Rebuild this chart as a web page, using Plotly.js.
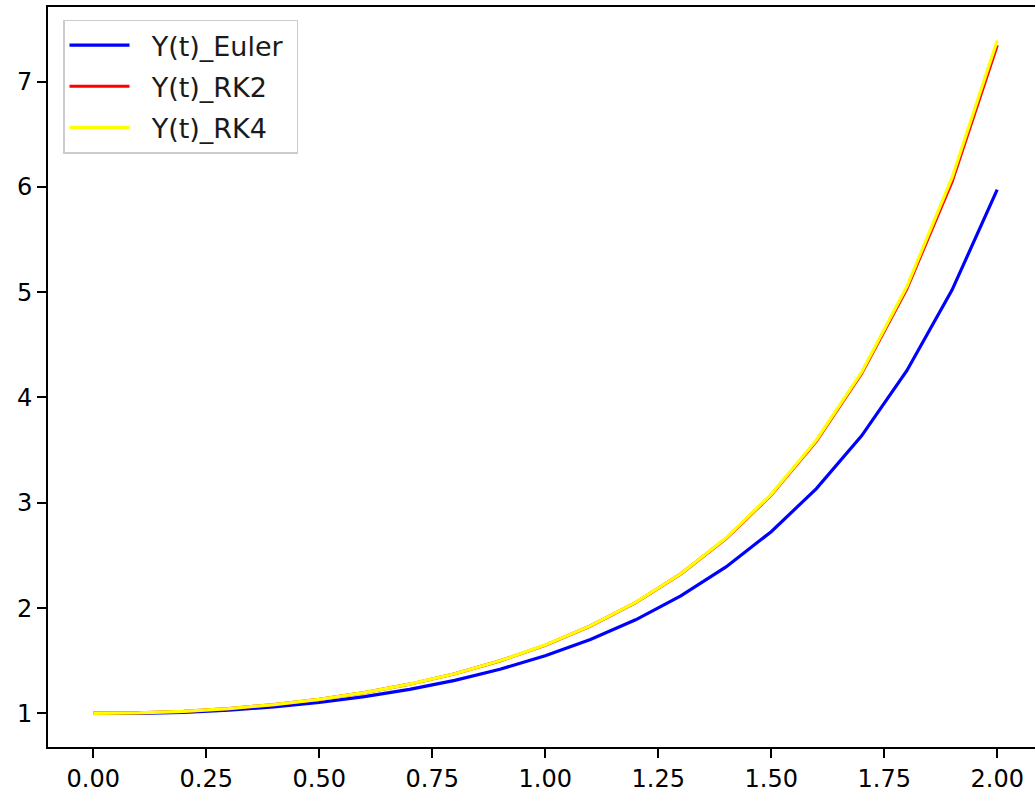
<!DOCTYPE html>
<html>
<head>
<meta charset="utf-8">
<script src="https://cdn.plot.ly/plotly-3.0.1.min.js"></script>
<style>html,body{margin:0;padding:0;background:#fff;}#chart{width:1035px;height:791px;}</style>
</head>
<body>
<div id="chart"></div>
<script>
const t = [0.0,0.1,0.2,0.3,0.4,0.5,0.6,0.7,0.8,0.9,1.0,1.1,1.2,1.3,1.4,1.5,1.6,1.7,1.8,1.9,2.0];
const yEuler = [1.0,1.0,1.01,1.0302,1.0611,1.1035,1.1587,1.2282,1.3142,1.4194,1.5471,1.7018,1.8890,2.1157,2.3907,2.7254,3.1343,3.6357,4.2538,5.0195,5.9732];
const yRK2 = [1.0,1.005,1.0202,1.0460,1.0832,1.1331,1.1971,1.2774,1.3768,1.4988,1.6479,1.8300,2.0525,2.3251,2.6601,3.0739,3.5873,4.2279,5.0325,6.0496,7.3442];
const yRK4 = [1.0,1.0050,1.0202,1.0460,1.0833,1.1331,1.1972,1.2776,1.3771,1.4993,1.6487,1.8313,2.0544,2.3264,2.6645,3.0802,3.5966,4.2402,5.0531,6.0872,7.3890];
const names = ["Y(t)_Euler","Y(t)_RK2","Y(t)_RK4"];
const xTicks = [0,0.25,0.5,0.75,1.0,1.25,1.5,1.75,2.0];
const xTickText = ["0.00","0.25","0.50","0.75","1.00","1.25","1.50","1.75","2.00"];
const yTicks = [1,2,3,4,5,6,7];

const colors = ["#0000ff","#ff0000","#ffff00"];
const series = [yEuler, yRK2, yRK4];
const data = series.map((s,i)=>({x:t, y:s, type:'scatter', mode:'lines', name:'\u00a0\u00a0'+names[i]+'\u00a0', legendgroup:'g'+i,
  line:{color:colors[i], width:3.2}}));

const font = {family:'DejaVu Sans, sans-serif', size:24, color:'#000'};
const layout = {
  width:1035, height:791,
  margin:{l:48, r:0, t:7, b:44, pad:0},
  paper_bgcolor:'#fff', plot_bgcolor:'#fff',
  font:font,
  showlegend:true,
  xaxis:{range:[-0.1,2.0836], tickvals:xTicks, ticktext:xTickText, showgrid:false, zeroline:false,
    showline:true, mirror:true, linecolor:'#000', linewidth:2, ticks:'outside', ticklen:9, tickwidth:2, tickcolor:'#000', tickfont:font},
  yaxis:{range:[0.681,7.708], tickvals:yTicks, showgrid:false, zeroline:false,
    showline:true, mirror:false, linecolor:'#000', linewidth:2, ticks:'outside', ticklen:9, tickwidth:2, tickcolor:'#000', tickfont:font},
  legend:{x:0.0152, y:0.983, xanchor:'left', yanchor:'top', bgcolor:'rgba(255,255,255,0.8)', bordercolor:'#cccccc', borderwidth:1.5,
    font:{family:'DejaVu Sans, sans-serif', size:27, color:'#1a1a1a'}, itemwidth:60, tracegroupgap:3}
};
Plotly.newPlot('chart', data, layout, {displayModeBar:false, staticPlot:true});
</script>
</body>
</html>
